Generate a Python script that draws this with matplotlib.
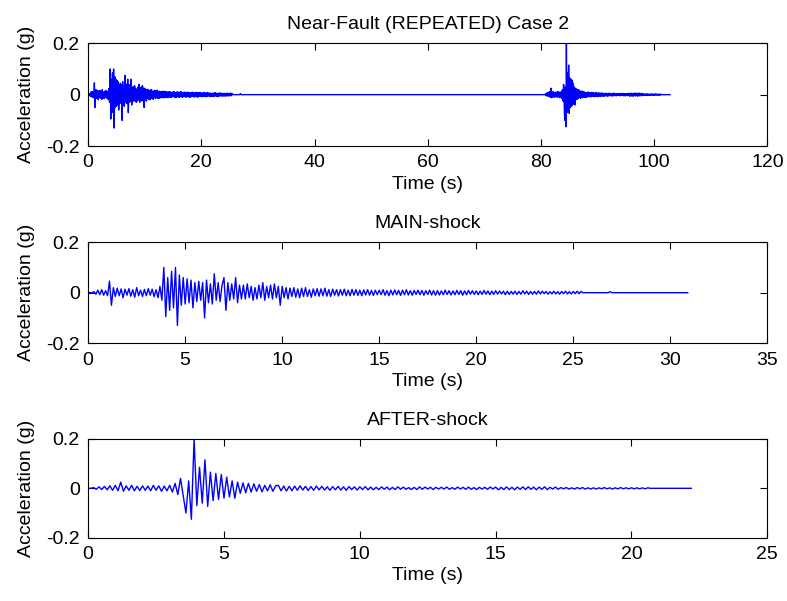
import numpy as np
import matplotlib.pyplot as plt

plt.rcParams['font.family'] = ['Liberation Sans', 'DejaVu Sans']
plt.rcParams['font.size'] = 14

# sampling interval (s) of the digitised records
dt = 0.1

# main-shock acceleration (g), one line per second
main_acc = [
    0.000, 0.000, 0.000, 0.004, -0.006, 0.010, -0.008, 0.012, -0.010, 0.008,
    -0.012, 0.046, -0.050, 0.020, -0.015, 0.018, -0.012, 0.015, -0.020, 0.014,
    -0.010, 0.016, -0.014, 0.012, -0.018, 0.020, -0.012, 0.010, -0.015, 0.013,
    -0.012, 0.016, -0.010, 0.014, -0.016, 0.012, -0.020, 0.025, -0.030, 0.100,
    -0.095, 0.060, -0.070, 0.085, -0.060, 0.100, -0.130, 0.070, -0.050, 0.060,
    -0.045, 0.055, -0.040, 0.050, -0.060, 0.040, -0.035, 0.045, -0.030, 0.040,
    -0.100, 0.050, -0.040, 0.035, -0.045, 0.075, -0.030, 0.040, -0.035, 0.030,
    0.060, -0.070, 0.040, -0.030, 0.035, -0.025, 0.060, -0.040, 0.030, -0.025,
    0.030, -0.025, 0.035, -0.020, 0.025, -0.030, 0.020, -0.025, 0.030, -0.020,
    0.040, -0.030, 0.025, -0.020, 0.030, -0.025, 0.035, -0.020, 0.025, -0.050,
    0.025, -0.020, 0.020, -0.025, 0.018, -0.015, 0.020, -0.018, 0.015, -0.020,
    0.018, -0.015, 0.020, -0.015, 0.012, -0.018, 0.015, -0.012, 0.016, -0.014,
    0.015, -0.012, 0.018, -0.014, 0.012, -0.015, 0.014, -0.010, 0.012, -0.013,
    0.012, -0.010, 0.014, -0.012, 0.010, -0.012, 0.013, -0.010, 0.012, -0.011,
    0.010, -0.012, 0.011, -0.009, 0.012, -0.010, 0.009, -0.011, 0.010, -0.008,
    0.010, -0.008, 0.012, -0.010, 0.008, -0.012, 0.010, -0.009, 0.011, -0.008,
    0.009, -0.011, 0.010, -0.008, 0.012, -0.009, 0.008, -0.010, 0.009, -0.007,
    0.010, -0.008, 0.009, -0.010, 0.008, -0.007, 0.010, -0.009, 0.008, -0.010,
    0.008, -0.009, 0.007, -0.008, 0.010, -0.007, 0.008, -0.009, 0.007, -0.008,
    0.009, -0.007, 0.008, -0.010, 0.007, -0.008, 0.009, -0.006, 0.008, -0.007,
    0.007, -0.008, 0.006, -0.007, 0.009, -0.006, 0.007, -0.008, 0.006, -0.007,
    0.008, -0.006, 0.007, -0.005, 0.006, -0.008, 0.006, -0.007, 0.005, -0.006,
    0.006, -0.007, 0.005, -0.006, 0.008, -0.005, 0.006, -0.007, 0.005, -0.006,
    0.005, -0.006, 0.007, -0.005, 0.006, -0.004, 0.005, -0.006, 0.004, -0.005,
    0.006, -0.005, 0.004, -0.006, 0.005, -0.004, 0.006, -0.005, 0.004, -0.005,
    0.005, -0.004, 0.006, -0.004, 0.005, 0.000, 0.000, 0.000, 0.000, 0.000,
]
main_tail_t = [26.8, 26.9, 27.0, 30.9]
main_tail_a = [0.000, 0.004, 0.000, 0.000]

# after-shock acceleration (g), one line per second
after_acc = [
    0.000, 0.000, 0.003, -0.004, 0.006, -0.005, 0.008, -0.006, 0.010, -0.008,
    0.012, -0.010, 0.025, -0.012, 0.010, -0.008, 0.012, -0.010, 0.008, -0.009,
    0.010, -0.008, 0.009, -0.010, 0.012, -0.008, 0.010, -0.012, 0.009, -0.010,
    0.012, -0.015, 0.020, -0.025, 0.040, -0.030, -0.100, 0.030, -0.125, 0.200,
    -0.070, 0.085, -0.060, 0.115, -0.073, 0.065, -0.050, 0.060, -0.045, 0.056,
    -0.040, 0.045, -0.035, 0.030, -0.040, 0.025, -0.020, 0.022, -0.018, 0.020,
    -0.015, 0.018, -0.012, 0.015, -0.014, 0.012, -0.010, 0.014, -0.012, 0.010,
    0.012, -0.010, 0.009, -0.011, 0.008, -0.010, 0.009, -0.008, 0.010, -0.007,
    0.008, -0.009, 0.007, -0.008, 0.009, -0.006, 0.008, -0.007, 0.006, -0.008,
    0.007, -0.006, 0.008, -0.007, 0.006, -0.008, 0.007, -0.005, 0.006, -0.007,
    0.006, -0.005, 0.007, -0.006, 0.005, -0.006, 0.004, -0.005, 0.006, -0.004,
    0.005, -0.006, 0.004, -0.005, 0.006, -0.004, 0.005, -0.004, 0.003, -0.005,
    0.004, -0.005, 0.006, -0.004, 0.005, -0.003, 0.004, -0.005, 0.004, -0.003,
    0.004, -0.003, 0.005, -0.004, 0.003, -0.004, 0.005, -0.003, 0.004, -0.004,
    0.005, -0.004, 0.003, -0.005, 0.004, -0.003, 0.004, -0.004, 0.005, -0.003,
    0.005, -0.006, 0.004, -0.005, 0.006, -0.005, 0.004, -0.006, 0.005, -0.004,
    0.006, -0.005, 0.006, -0.004, 0.005, -0.006, 0.005, -0.004, 0.006, -0.005,
    0.004, -0.003, 0.005, -0.004, 0.003, -0.002, 0.003, -0.003, 0.002, -0.003,
    0.003, -0.002, 0.003, -0.003, 0.002, -0.003, 0.002, -0.003, 0.002, -0.002,
    0.003, -0.002, 0.002, -0.003, 0.002, -0.002, 0.003, -0.002, 0.002, -0.002,
    0.002, -0.002, 0.002, -0.002, 0.002, -0.002, 0.002, 0.000,
]
after_tail_t = [22.2]
after_tail_a = [0.000]

# start time of the after-shock in the repeated record (s)
after_offset = 80.6

main_t = np.concatenate([np.arange(len(main_acc)) * dt, main_tail_t])
main_a = np.concatenate([main_acc, main_tail_a])
after_t = np.concatenate([np.arange(len(after_acc)) * dt, after_tail_t])
after_a = np.concatenate([after_acc, after_tail_a])

rep_t = np.concatenate([main_t, after_t + after_offset])
rep_a = np.concatenate([main_a, after_a])

panels = [
    (rep_t, rep_a, 'Near-Fault (REPEATED) Case 2', 120, 20,
     [0.112, 0.757, 0.863, 0.171]),
    (main_t, main_a, 'MAIN-shock', 35, 5, [0.112, 0.429, 0.863, 0.168]),
    (after_t, after_a, 'AFTER-shock', 25, 5, [0.112, 0.105, 0.863, 0.165]),
]

fig = plt.figure(figsize=(7.87, 6.01), dpi=100)
for t, a, title, xmax, xstep, pos in panels:
    ax = fig.add_axes(pos)
    ax.plot(t, a, color='blue', linewidth=1.0)
    ax.set_xlim(0, xmax)
    ax.set_ylim(-0.2, 0.2)
    ax.set_xticks(np.arange(0, xmax + 1, xstep))
    ax.set_yticks([-0.2, 0, 0.2])
    ax.set_yticklabels(['-0.2', '0', '0.2'])
    ax.tick_params(direction='in', top=True, right=True, length=5)
    ax.tick_params(axis='x', pad=6)
    ax.tick_params(axis='y', pad=6)
    ax.set_title(title, fontsize=14, pad=10)
    ax.set_xlabel('Time (s)', labelpad=3)
    ax.set_ylabel('Acceleration (g)', labelpad=8)

plt.savefig('out.png', dpi=100)
